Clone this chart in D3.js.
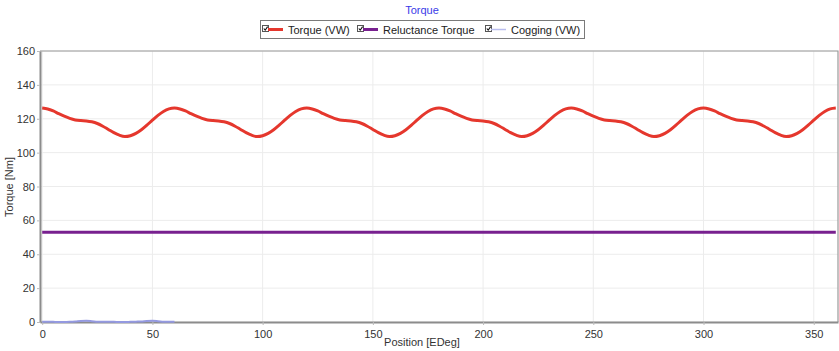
<!DOCTYPE html>
<html>
<head>
<meta charset="utf-8">
<script src="https://cdn.jsdelivr.net/npm/d3@7"></script>
<style>
  html, body { margin: 0; padding: 0; background: #fff; }
  svg { display: block; font-family: "Liberation Sans", Arial, sans-serif; }
</style>
</head>
<body>
<svg id="chart" width="839" height="351"></svg>
<script>
// Rotor position, electrical degrees (2.5° steps over one revolution)
const positions = d3.range(0, 360.01, 2.5);

// Torque (VW) in Nm, one value per position
const torqueVW = [
  126.3,125.8,124.6,123.0,121.5,120.2,119.3,118.9,118.7,118.2,117.2,115.6,113.7,111.8,110.3,109.5,110.0,111.4,113.5,116.2,119.2,122.0,124.3,125.8,
  126.3,125.8,124.6,123.0,121.5,120.2,119.3,118.9,118.7,118.2,117.2,115.6,113.7,111.8,110.3,109.5,110.0,111.4,113.5,116.2,119.2,122.0,124.3,125.8,
  126.3,125.8,124.6,123.0,121.5,120.2,119.3,118.9,118.7,118.2,117.2,115.6,113.7,111.8,110.3,109.5,110.0,111.4,113.5,116.2,119.2,122.0,124.3,125.8,
  126.3,125.8,124.6,123.0,121.5,120.2,119.3,118.9,118.7,118.2,117.2,115.6,113.7,111.8,110.3,109.5,110.0,111.4,113.5,116.2,119.2,122.0,124.3,125.8,
  126.3,125.8,124.6,123.0,121.5,120.2,119.3,118.9,118.7,118.2,117.2,115.6,113.7,111.8,110.3,109.5,110.0,111.4,113.5,116.2,119.2,122.0,124.3,125.8,
  126.3,125.8,124.6,123.0,121.5,120.2,119.3,118.9,118.7,118.2,117.2,115.6,113.7,111.8,110.3,109.5,110.0,111.4,113.5,116.2,119.2,122.0,124.3,125.8,
  126.3
];

// Reluctance torque is flat over the revolution
const reluctanceTorque = positions.map(() => 53);

// Cogging (VW) only covers the first 60 EDeg
const coggingPositions = [0,2.5,5,7.5,10,12.5,15,17.5,20,22.5,25,27.5,30,32.5,35,37.5,40,42.5,45,47.5,50,52.5,55,57.5,60];
const coggingVW =        [0.2,0.2,0.1,0.0,0.0,0.1,0.3,0.6,0.7,0.5,0.2,0.1,0.1,0.1,0.0,0.0,0.1,0.2,0.3,0.6,0.7,0.5,0.2,0.1,0.1];

const xTicks = [0, 50, 100, 150, 200, 250, 300, 350];
const yTicks = [0, 20, 40, 60, 80, 100, 120, 140, 160];

const seriesNames = ["Torque (VW)", "Reluctance Torque", "Cogging (VW)"];
const seriesColors = ["#e5372d", "#78208f", "#b9bdee"];

const svg = d3.select("#chart");
const plotLeft = 40, plotRight = 838, plotTop = 51, plotBottom = 322;

const x = d3.scaleLinear().domain([-1, 361]).range([plotLeft, plotRight]);
const y = d3.scaleLinear().domain([0, 160]).range([plotBottom, plotTop]);

// Title
svg.append("text")
  .attr("x", 422).attr("y", 14)
  .attr("text-anchor", "middle")
  .attr("font-size", 11).attr("fill", "#3a3ae8")
  .text("Torque");

// Grid
const grid = svg.append("g");
grid.selectAll("line.vx").data(xTicks).join("line")
  .attr("x1", d => x(d)).attr("x2", d => x(d))
  .attr("y1", plotTop).attr("y2", plotBottom)
  .attr("stroke", "#ececec").attr("stroke-width", 1);
grid.selectAll("line.hy").data(yTicks).join("line")
  .attr("x1", plotLeft).attr("x2", plotRight)
  .attr("y1", d => y(d)).attr("y2", d => y(d))
  .attr("stroke", "#ececec").attr("stroke-width", 1);

// Frame (top and right)
svg.append("path")
  .attr("d", `M${plotLeft},${plotTop}H${plotRight}V${plotBottom}`)
  .attr("fill", "none").attr("stroke", "#9a9a9a").attr("stroke-width", 1.2);

// Axes
const xAxis = d3.axisBottom(x).tickValues(xTicks).tickSize(3).tickSizeOuter(0);
const yAxis = d3.axisLeft(y).tickValues(yTicks).tickSize(3).tickSizeOuter(0);

const gx = svg.append("g").attr("transform", `translate(0,${plotBottom})`).call(xAxis);
const gy = svg.append("g").attr("transform", `translate(${plotLeft},0)`).call(yAxis);
[gx, gy].forEach(g => {
  g.select(".domain").attr("stroke", "#8c8c8c").attr("stroke-width", 2);
  g.selectAll(".tick line").attr("stroke", "#bbbbbb");
  g.selectAll(".tick text").attr("fill", "#333").attr("font-size", 11)
    .attr("font-family", "'Liberation Sans', Arial, sans-serif");
});
gx.selectAll(".tick text").attr("dy", "0.9em");
gy.selectAll(".tick text").attr("x", -5);

// Axis titles
svg.append("text")
  .attr("x", 422).attr("y", 346)
  .attr("text-anchor", "middle").attr("font-size", 11).attr("fill", "#333")
  .text("Position [EDeg]");
svg.append("text")
  .attr("transform", "translate(13,187) rotate(-90)")
  .attr("text-anchor", "middle").attr("font-size", 11).attr("fill", "#333")
  .text("Torque [Nm]");

// Series lines
const line = d3.line().x(d => x(d[0])).y(d => y(d[1])).curve(d3.curveMonotoneX);

svg.append("path")
  .datum(coggingPositions.map((p, i) => [p, coggingVW[i]]))
  .attr("d", line).attr("fill", "none")
  .attr("stroke", "#9499e0").attr("stroke-width", 2);

svg.append("path")
  .datum(positions.map((p, i) => [p, reluctanceTorque[i]]))
  .attr("d", line).attr("fill", "none")
  .attr("stroke", seriesColors[1]).attr("stroke-width", 3);

svg.append("path")
  .datum(positions.map((p, i) => [p, torqueVW[i]]))
  .attr("d", line).attr("fill", "none")
  .attr("stroke", seriesColors[0]).attr("stroke-width", 3)
  .attr("stroke-linejoin", "round");

// Legend
const legend = svg.append("g");
legend.append("rect")
  .attr("x", 260.5).attr("y", 20.5).attr("width", 324).attr("height", 18)
  .attr("fill", "#fff").attr("stroke", "#7a7a7a").attr("stroke-width", 1);

const entryX = [262, 357, 485];
seriesNames.forEach((name, i) => {
  const g = legend.append("g").attr("transform", `translate(${entryX[i]},0)`);
  // checkbox
  g.append("rect").attr("x", 0.5).attr("y", 25.5).attr("width", 6).attr("height", 6)
    .attr("fill", "#fff").attr("stroke", "#555").attr("stroke-width", 1);
  g.append("path").attr("d", "M1.8,28.5 L3.2,30.2 L5.6,26.6")
    .attr("fill", "none").attr("stroke", "#111").attr("stroke-width", 1.1);
  // line sample
  g.append("line").attr("x1", 6).attr("x2", 21).attr("y1", 29.5).attr("y2", 29.5)
    .attr("stroke", seriesColors[i]).attr("stroke-width", i === 2 ? 1.5 : 3);
  g.append("text").attr("x", 26).attr("y", 33.5)
    .attr("font-size", 11).attr("fill", "#222").text(name);
});
</script>
</body>
</html>
